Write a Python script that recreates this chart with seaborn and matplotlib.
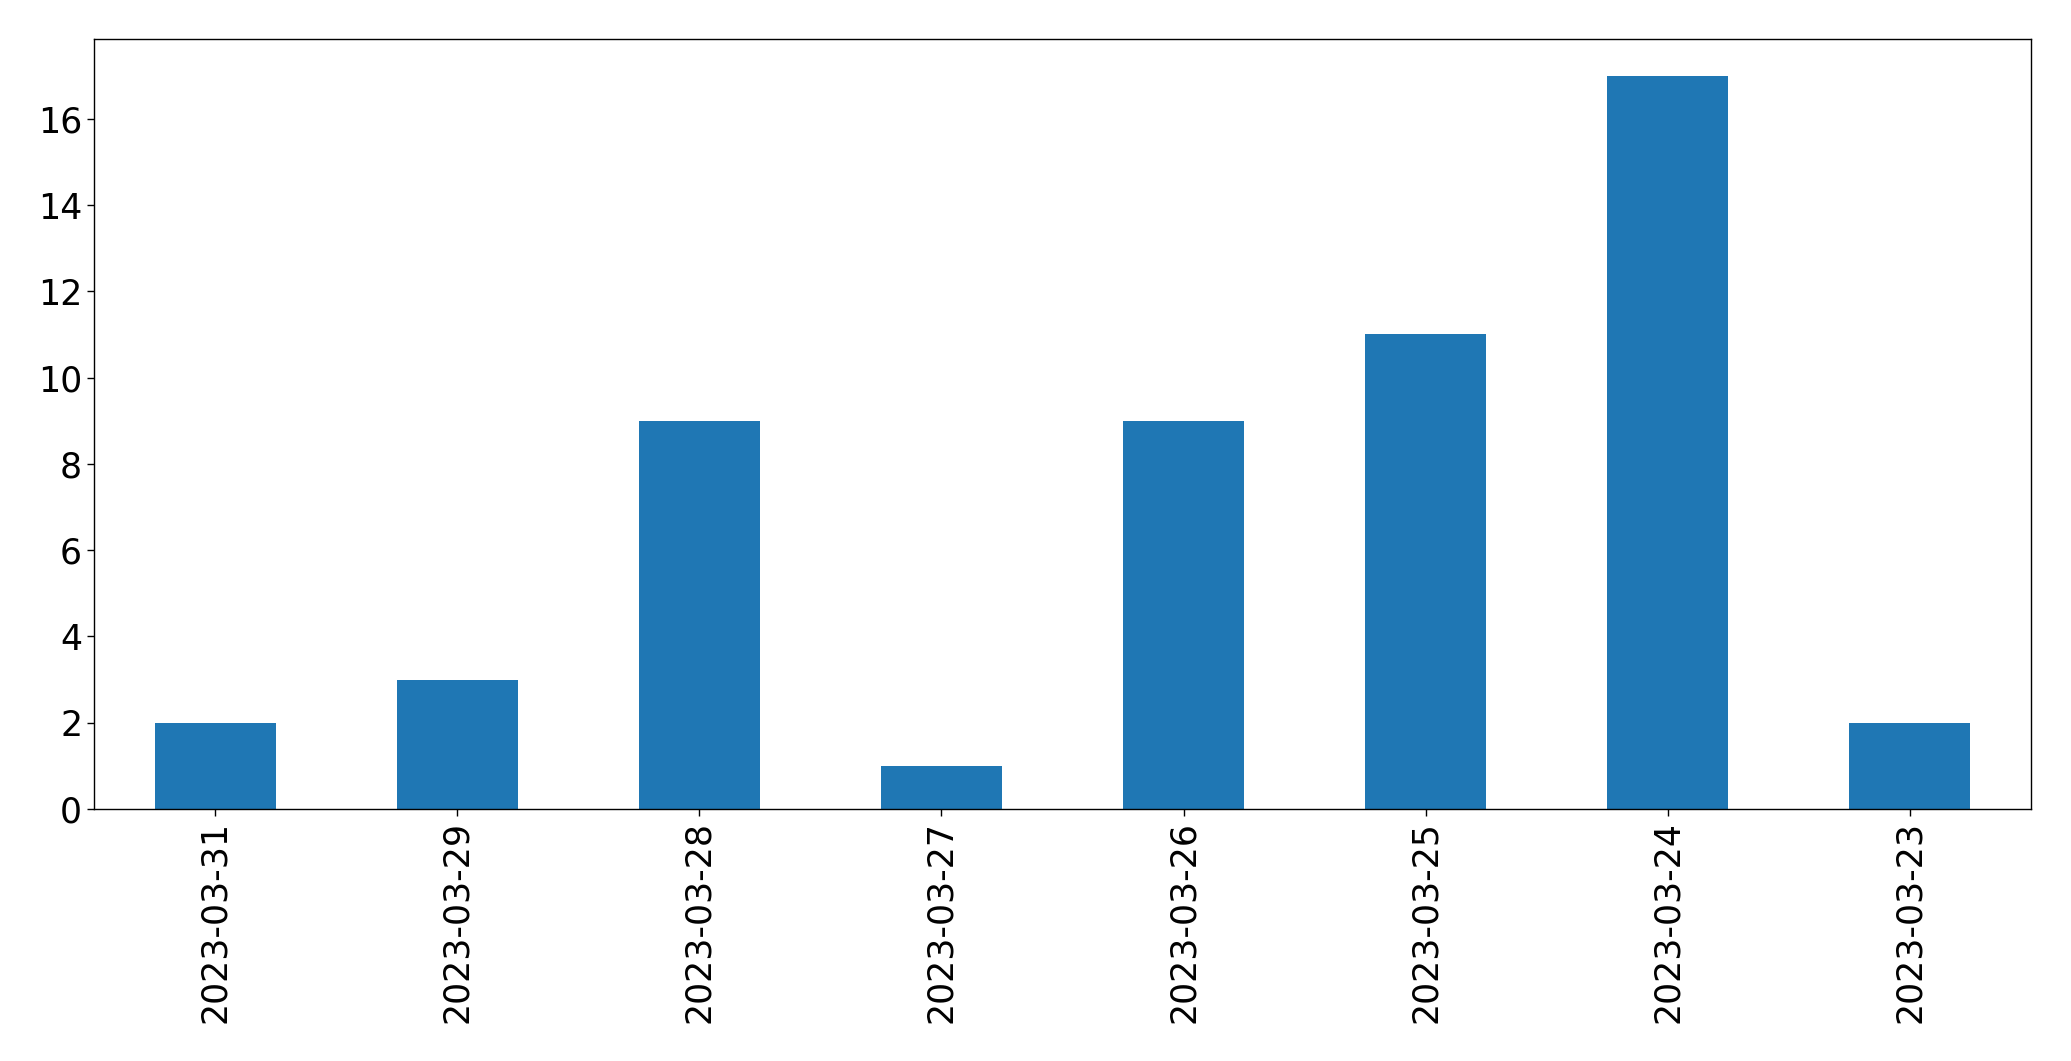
import matplotlib
matplotlib.use('Agg')
import pandas as pd
import matplotlib.pyplot as plt
import seaborn as sns

# Values
dates = ['2023-03-31', '2023-03-29', '2023-03-28', '2023-03-27',
         '2023-03-26', '2023-03-25', '2023-03-24', '2023-03-23']
counts = [2, 3, 9, 1, 9, 11, 17, 2]

df = pd.DataFrame({'date': dates, 'count': counts})

sns.set_style('ticks')
plt.rcParams['font.family'] = ['DejaVu Sans']

fig = plt.figure(figsize=(20.71, 10.61), dpi=100)
ax = fig.add_axes([94 / 2071, 1 - 809 / 1061, (2031 - 94) / 2071, (809 - 39) / 1061])

sns.barplot(data=df, x='date', y='count', color='#1f77b4', saturation=1,
            width=0.5, linewidth=0, ax=ax)

ax.set_xlim(-0.5, len(dates) - 0.5)
ax.set_ylim(0, max(counts) * 1.05)
ax.set_xlabel('')
ax.set_ylabel('')
ax.tick_params(axis='both', labelsize=25, length=5, width=1,
               color='black', labelcolor='black')
ax.tick_params(axis='x', labelrotation=90)
for spine in ax.spines.values():
    spine.set_visible(True)
    spine.set_color('black')
    spine.set_linewidth(1)

fig.savefig('out.png', dpi=100)
